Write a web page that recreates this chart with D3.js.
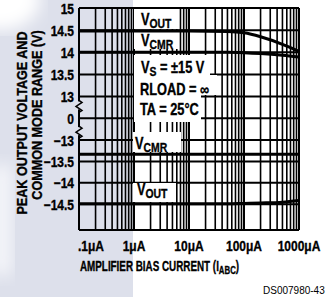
<!DOCTYPE html>
<html>
<head>
<meta charset="utf-8">
<script src="https://cdn.jsdelivr.net/npm/d3@7"></script>
<style>
body { margin: 0; background: #fff; }
svg { display: block; }
text { font-family: "Liberation Sans", Arial, sans-serif; font-weight: bold; fill: #000; stroke: #000; stroke-width: 0.35px; }
text.plain { stroke: none; font-weight: normal; }
</style>
</head>
<body>
<script>
// tick values and labels (broken y axis)
var yTicks = [15, 14.5, 14, 13.5, 13, 0, -13, -13.5, -14, -14.5];
var yTickLabels = ["15", "14.5", "14", "13.5", "13", "0", "\u221213", "\u221213.5", "\u221214", "\u221214.5"];
var xTicks = [0.1, 1, 10, 100, 1000];
var xTickLabels = [".1\u03bcA", "1\u03bcA", "10\u03bcA", "100\u03bcA", "1000\u03bcA"];

// curves
var biasCurrent = [0.1, 1, 10, 50, 100, 200, 500, 1000];
var voutPos = [14.48, 14.48, 14.48, 14.47, 14.44, 14.35, 14.18, 14.02];
var vcmrPos = [14.0, 14.0, 14.0, 14.0, 13.99, 13.97, 13.93, 13.89];
var vcmrNeg = [-13.33, -13.33, -13.33, -13.33, -13.33, -13.33, -13.33, -13.33];
var voutNeg = [-14.49, -14.49, -14.49, -14.49, -14.48, -14.47, -14.45, -14.41];

window.onload = function(){
    var svg = d3.select("body")
                .append("svg")
                .attr("width", 325)
                .attr("height", 297);

    // scanned page tint on the left
    var defs = svg.append("defs");
    defs.append("filter").attr("id", "blur")
        .append("feGaussianBlur").attr("stdDeviation", 8);
    svg.append("rect")
        .attr("x", 0).attr("y", 0).attr("width", 133).attr("height", 297)
        .attr("fill", "#dde0eb");
    svg.append("ellipse")
        .attr("cx", 0).attr("cy", 0).attr("rx", 40).attr("ry", 30)
        .attr("fill", "#fff").attr("filter", "url(#blur)");
    svg.append("rect")
        .attr("x", -10).attr("y", 165).attr("width", 22).attr("height", 110)
        .attr("fill", "#f4f5f9").attr("filter", "url(#blur)");

    var x = d3.scaleLog().domain([0.1, 1000]).range([79, 299]);
    var y = d3.scaleLinear().domain([-15.1, -13, 13, 15]).range([230, 140, 96.5, 8]);

    // vertical grid: 1..9 in every decade
    var xGrid = [];
    [0.1, 1, 10, 100].forEach(function(d){
        for (var k = 1; k < 10; k++) xGrid.push(d * k);
    });
    xGrid.push(1000);

    var grid = svg.append("g");
    grid.selectAll("line.v")
        .data(xGrid)
        .enter()
        .append("line")
        .attr("class", "v")
        .attr("x1", function(d){ return x(d); })
        .attr("x2", function(d){ return x(d); })
        .attr("y1", y(15))
        .attr("y2", y(-15.1))
        .attr("stroke", "#000")
        .attr("stroke-width", function(d,i){ return (i % 9 == 0) ? 2 : 1.6; });

    grid.selectAll("line.h")
        .data(yTicks.concat([-15.1]))
        .enter()
        .append("line")
        .attr("class", "h")
        .attr("x1", x(0.1))
        .attr("x2", x(1000))
        .attr("y1", function(d){ return y(d); })
        .attr("y2", function(d){ return y(d); })
        .attr("stroke", "#000")
        .attr("stroke-width", 2);

    // axis break marks
    [[13, 0], [0, -13]].forEach(function(p){
        var ym = (y(p[0]) + y(p[1])) / 2 + (p[1] == 0 ? -2 : 2);
        svg.append("line")
            .attr("x1", 79).attr("x2", 79).attr("y1", ym - 4).attr("y2", ym + 4)
            .attr("stroke", "#dde0eb").attr("stroke-width", 3);
        svg.append("path")
            .attr("d", "M79," + (ym - 5) + " l3,2 l-6,4 l6,4 l-3,2")
            .attr("fill", "none").attr("stroke", "#000").attr("stroke-width", 1.5);
    });

    // white label boxes over the grid
    var boxes = [[134, 9, 44, 20], [134, 32, 45, 17], [134, 55, 76, 20], [134, 75, 83, 20], [134, 95, 67, 27],
                 [133, 132, 48, 20], [133, 183, 43, 19]];
    svg.selectAll("rect.box")
        .data(boxes)
        .enter()
        .append("rect")
        .attr("class", "box")
        .attr("x", function(d){ return d[0]; })
        .attr("y", function(d){ return d[1]; })
        .attr("width", function(d){ return d[2]; })
        .attr("height", function(d){ return d[3]; })
        .attr("fill", "#fff");

    // curves
    var line = d3.line()
                .x(function(d){ return x(d[0]); })
                .y(function(d){ return y(d[1]); })
                .curve(d3.curveMonotoneX);
    [voutPos, vcmrPos, vcmrNeg, voutNeg].forEach(function(s){
        svg.append("path")
            .datum(biasCurrent.map(function(c,i){ return [c, s[i]]; }))
            .attr("d", line)
            .attr("fill", "none")
            .attr("stroke", "#000")
            .attr("stroke-width", 3);
    });

    // condensed look: squeeze text horizontally
    function place(px, py, sx, rot){
        return "translate(" + px + "," + py + ")" + (rot ? " rotate(-90)" : "") + " scale(" + sx + ",1)";
    }

    // tick labels
    svg.selectAll("text.ytick")
        .data(yTicks)
        .enter()
        .append("text")
        .attr("class", "ytick")
        .attr("transform", function(d){ return place(74, y(d) + 5.5, 0.8); })
        .attr("text-anchor", "end")
        .attr("font-size", "15px")
        .text(function(d,i){ return yTickLabels[i]; });

    svg.selectAll("text.xtick")
        .data(xTicks)
        .enter()
        .append("text")
        .attr("class", "xtick")
        .attr("transform", function(d,i){ return place(i == 0 ? 78 : x(d), 251, 0.8); })
        .attr("text-anchor", function(d,i){ return i == 0 ? "start" : "middle"; })
        .attr("font-size", "15px")
        .text(function(d,i){ return xTickLabels[i]; });

    // axis titles
    svg.append("text")
        .attr("transform", place(27, 123, 0.84, true))
        .attr("text-anchor", "middle")
        .attr("font-size", "15px")
        .text("PEAK OUTPUT VOLTAGE AND");
    svg.append("text")
        .attr("transform", place(42, 115, 0.84, true))
        .attr("text-anchor", "middle")
        .attr("font-size", "15px")
        .text("COMMON MODE RANGE (V)");

    var xt = svg.append("text")
        .attr("transform", place(80, 271, 0.68))
        .attr("font-size", "14.5px");
    xt.append("tspan").text("AMPLIFIER BIAS CURRENT (I");
    xt.append("tspan").attr("font-size", "11.5px").attr("dy", 3).text("ABC");
    xt.append("tspan").attr("dy", -3).text(")");

    // series labels with subscripts
    function label(px, py, main, sub, rest){
        var t = svg.append("text").attr("transform", place(px, py, 0.8)).attr("font-size", "16px");
        t.append("tspan").text(main);
        t.append("tspan").attr("font-size", "13px").attr("dy", 3).text(sub);
        if (rest) t.append("tspan").attr("dy", -3).text(rest);
    }
    label(141, 25, "V", "OUT");
    label(141, 46, "V", "CMR");
    label(141, 73, "V", "S", " = \u00b115 V");
    svg.append("text").attr("transform", place(140, 95, 0.8)).attr("font-size", "16px").text("RLOAD = \u221e");
    svg.append("text").attr("transform", place(140, 115, 0.8)).attr("font-size", "16px").text("TA = 25\u00b0C");
    label(135, 149, "V", "CMR");
    label(137, 195, "V", "OUT");

    svg.append("text")
        .attr("class", "plain")
        .attr("x", 263)
        .attr("y", 294)
        .attr("font-size", "10px")
        .text("DS007980-43");
}
</script>
</body>
</html>
